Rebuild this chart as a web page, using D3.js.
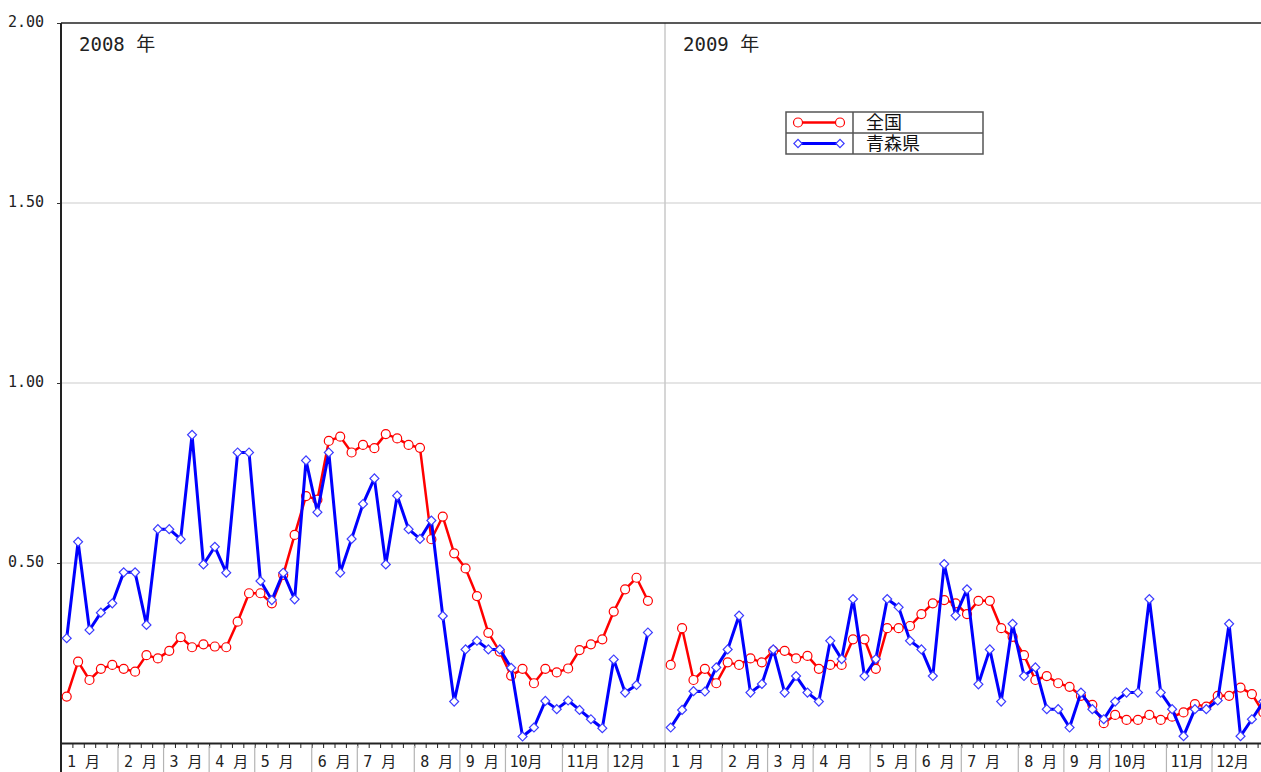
<!DOCTYPE html>
<html>
<head>
<meta charset="utf-8">
<script src="https://cdn.jsdelivr.net/npm/d3@7"></script>
<style>
  body { margin: 0; background: #fff; overflow: hidden; }
  svg { display: block; }
</style>
</head>
<body>
<div id="chart"></div>
<script>
// weekly values, 2008 / 2009 (week slots per year: 53)
const years = ['2008 年', '2009 年'];
const seriesNames = ['全国', '青森県'];

const national2008 = [0.129, 0.226, 0.175, 0.206, 0.217, 0.206, 0.198, 0.244, 0.235, 0.256,
  0.294, 0.266, 0.274, 0.268, 0.266, 0.337, 0.416, 0.416, 0.388, 0.467,
  0.578, 0.686, 0.676, 0.839, 0.851, 0.807, 0.828, 0.819, 0.858, 0.846,
  0.828, 0.820, 0.566, 0.629, 0.527, 0.485, 0.408, 0.306, 0.254, 0.187,
  0.206, 0.166, 0.206, 0.196, 0.207, 0.258, 0.274, 0.288, 0.365, 0.427,
  0.459, 0.395];
const national2009 = [0.217, 0.319, 0.175, 0.206, 0.166, 0.224, 0.217, 0.235, 0.224, 0.256,
  0.256, 0.235, 0.242, 0.206, 0.217, 0.217, 0.288, 0.288, 0.206, 0.319,
  0.319, 0.325, 0.358, 0.388, 0.397, 0.388, 0.358, 0.395, 0.395, 0.319,
  0.295, 0.244, 0.175, 0.186, 0.166, 0.156, 0.131, 0.106, 0.055, 0.078,
  0.064, 0.064, 0.078, 0.064, 0.073, 0.085, 0.108, 0.101, 0.131, 0.131,
  0.154, 0.136, 0.085];

const aomori2008 = [0.291, 0.559, 0.314, 0.362, 0.388, 0.474, 0.474, 0.328, 0.594, 0.594,
  0.566, 0.856, 0.496, 0.545, 0.473, 0.807, 0.807, 0.450, 0.397, 0.473,
  0.399, 0.785, 0.641, 0.807, 0.473, 0.567, 0.664, 0.735, 0.496, 0.687,
  0.594, 0.567, 0.618, 0.353, 0.115, 0.260, 0.284, 0.260, 0.260, 0.209,
  0.018, 0.043, 0.117, 0.094, 0.118, 0.092, 0.066, 0.041, 0.232, 0.140,
  0.161, 0.307];
const aomori2009 = [0.043, 0.092, 0.144, 0.143, 0.210, 0.260, 0.354, 0.140, 0.164, 0.260,
  0.140, 0.186, 0.140, 0.115, 0.284, 0.233, 0.400, 0.186, 0.233, 0.400,
  0.377, 0.284, 0.260, 0.186, 0.497, 0.354, 0.427, 0.163, 0.260, 0.115,
  0.331, 0.186, 0.210, 0.094, 0.094, 0.043, 0.140, 0.094, 0.066, 0.115,
  0.140, 0.140, 0.400, 0.140, 0.094, 0.019, 0.094, 0.094, 0.118, 0.331,
  0.019, 0.066, 0.115];

const monthNames = ['1 月', '2 月', '3 月', '4 月', '5 月', '6 月', '7 月', '8 月', '9 月', '10月', '11月', '12月'];
const monthWeeks2008 = [5, 4, 4, 4, 5, 4, 5, 4, 4, 5, 4, 4];
const monthWeeks2009 = [5, 4, 4, 5, 4, 4, 5, 4, 4, 5, 4, 5];
const yTicks = [0.5, 1.0, 1.5, 2.0];
const weeksPerYear = 53;

const W = 1261, H = 772;
const plotLeft = 61, plotTop = 23, plotBottom = 743;
const slot = 604 / weeksPerYear;

const svg = d3.select('#chart').append('svg')
  .attr('width', W).attr('height', H);

const x = d3.scaleLinear().domain([0, weeksPerYear * 2]).range([plotLeft, plotLeft + slot * weeksPerYear * 2]);
const y = d3.scaleLinear().domain([0, 2]).range([plotBottom, plotTop]);

const monoFont = '"DejaVu Sans Mono", "Noto Sans CJK JP", monospace';

// grid lines
svg.append('g').selectAll('line')
  .data(yTicks.filter(v => v < 2))
  .join('line')
  .attr('x1', plotLeft).attr('x2', W)
  .attr('y1', d => y(d)).attr('y2', d => y(d))
  .attr('stroke', '#dcdcdc').attr('stroke-width', 1.5);

// year divider
svg.append('line')
  .attr('x1', x(weeksPerYear)).attr('x2', x(weeksPerYear))
  .attr('y1', y(2)).attr('y2', H)
  .attr('stroke', '#c8c8c8').attr('stroke-width', 1.5);

// top border
svg.append('line')
  .attr('x1', plotLeft).attr('x2', W)
  .attr('y1', y(2)).attr('y2', y(2))
  .attr('stroke', '#222').attr('stroke-width', 1.5);

// y axis
const yAxis = svg.append('g')
  .attr('transform', `translate(${plotLeft},0)`)
  .call(d3.axisLeft(y).tickValues(yTicks).tickFormat(d3.format('.2f')).tickSize(4).tickSizeOuter(0).tickPadding(13));
yAxis.select('.domain').remove();
yAxis.selectAll('line').attr('stroke', '#333');
yAxis.selectAll('text')
  .attr('dy', '0.2em')
  .style('font-family', monoFont).style('font-size', '15px').attr('fill', '#222');

svg.append('line')
  .attr('x1', plotLeft).attr('x2', plotLeft)
  .attr('y1', y(2)).attr('y2', H)
  .attr('stroke', '#222').attr('stroke-width', 2);

// x axis with weekly ticks
const xAxis = svg.append('g')
  .attr('transform', `translate(0,${plotBottom})`)
  .call(d3.axisBottom(x).tickValues(d3.range(0, weeksPerYear * 2 + 1)).tickFormat('').tickSize(5).tickSizeOuter(0));
xAxis.select('.domain').attr('stroke', '#222').attr('stroke-width', 2);
xAxis.selectAll('.tick line').attr('stroke', '#222');

// month boundaries and labels
const months = [];
[monthWeeks2008, monthWeeks2009].forEach((weeks, yi) => {
  let start = yi * weeksPerYear;
  weeks.forEach((n, mi) => {
    months.push({ start, name: monthNames[mi] });
    start += n;
  });
});

svg.append('g').selectAll('line')
  .data(months.filter(m => m.start > 0 && m.start !== weeksPerYear))
  .join('line')
  .attr('x1', d => x(d.start)).attr('x2', d => x(d.start))
  .attr('y1', plotBottom + 3).attr('y2', H)
  .attr('stroke', '#b4b4b4').attr('stroke-width', 1.2);

svg.append('g').selectAll('text')
  .data(months)
  .join('text')
  .attr('x', d => x(d.start) + (d.name[1] === ' ' ? 6 : 4))
  .attr('y', 767)
  .attr('xml:space', 'preserve')
  .style('font-family', monoFont).style('font-size', '15px')
  .attr('fill', '#222')
  .text(d => d.name);

// year labels
svg.append('g').selectAll('text')
  .data(years)
  .join('text')
  .attr('x', (d, i) => x(i * weeksPerYear) + 18)
  .attr('y', 51)
  .style('font-family', monoFont).style('font-size', '19px')
  .attr('fill', '#222')
  .text(d => d);

// series
const series = [
  { name: seriesNames[0], color: '#ff0000', marker: '#ff0000', width: 2.5, type: 'circle', years: [national2008, national2009] },
  { name: seriesNames[1], color: '#0000ff', marker: '#3c3cff', width: 3, type: 'diamond', years: [aomori2008, aomori2009] }
];

const line = d3.line().x(d => x(d.slot + 0.5)).y(d => y(d.v));

function drawMarkers(g, pts, s) {
  if (s.type === 'circle') {
    g.selectAll('circle')
      .data(pts)
      .join('circle')
      .attr('cx', d => x(d.slot + 0.5)).attr('cy', d => y(d.v))
      .attr('r', 4.5)
      .attr('fill', '#fff').attr('stroke', s.marker).attr('stroke-width', 1.2);
  } else {
    g.selectAll('path.mk')
      .data(pts)
      .join('path')
      .attr('class', 'mk')
      .attr('d', d3.symbol().type(d3.symbolSquare).size(40))
      .attr('transform', d => `translate(${x(d.slot + 0.5)},${y(d.v)}) rotate(45)`)
      .attr('fill', '#fff').attr('stroke', s.marker).attr('stroke-width', 1.2);
  }
}

series.forEach(s => {
  const g = svg.append('g');
  s.years.forEach((vals, yi) => {
    const pts = vals.map((v, i) => ({ slot: yi * weeksPerYear + i, v }));
    g.append('path')
      .datum(pts)
      .attr('d', line)
      .attr('fill', 'none')
      .attr('stroke', s.color)
      .attr('stroke-width', s.width)
      .attr('stroke-linejoin', 'round');
    drawMarkers(g.append('g'), pts, s);
  });
});

// legend
const lg = svg.append('g').attr('transform', 'translate(786,112)');
const rowH = 21, lgW = 197, colW = 67;
lg.append('rect')
  .attr('width', lgW).attr('height', rowH * series.length)
  .attr('fill', '#fff').attr('stroke', '#555').attr('stroke-width', 1.5);
lg.append('line')
  .attr('x1', colW).attr('x2', colW).attr('y1', 0).attr('y2', rowH * series.length)
  .attr('stroke', '#555').attr('stroke-width', 1.5);
series.forEach((s, i) => {
  const row = lg.append('g').attr('transform', `translate(0,${i * rowH})`);
  if (i > 0) {
    row.append('line').attr('x1', 0).attr('x2', lgW).attr('y1', 0).attr('y2', 0)
      .attr('stroke', '#555').attr('stroke-width', 1.5);
  }
  row.append('line')
    .attr('x1', 12).attr('x2', 54).attr('y1', rowH / 2).attr('y2', rowH / 2)
    .attr('stroke', s.color).attr('stroke-width', s.width);
  [12, 54].forEach(cx => {
    if (s.type === 'circle') {
      row.append('circle').attr('cx', cx).attr('cy', rowH / 2).attr('r', 4.5)
        .attr('fill', '#fff').attr('stroke', s.marker).attr('stroke-width', 1.2);
    } else {
      row.append('path')
        .attr('d', d3.symbol().type(d3.symbolSquare).size(34))
        .attr('transform', `translate(${cx},${rowH / 2}) rotate(45)`)
        .attr('fill', '#fff').attr('stroke', s.marker).attr('stroke-width', 1.2);
    }
  });
  row.append('text')
    .attr('x', 80).attr('y', rowH / 2)
    .attr('dy', '0.36em')
    .style('font-family', monoFont).style('font-size', '18px')
    .attr('fill', '#111')
    .text(s.name);
});
</script>
</body>
</html>
